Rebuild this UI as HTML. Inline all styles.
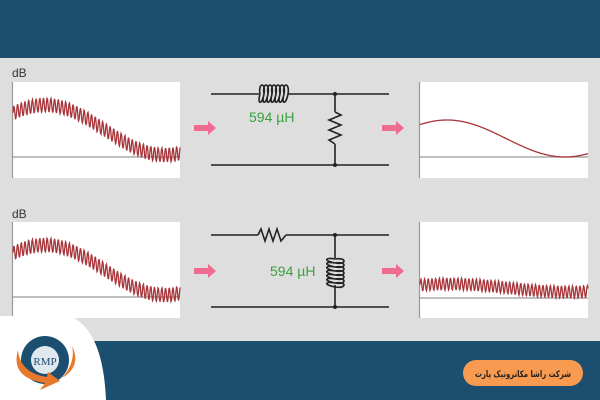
<!DOCTYPE html>
<html><head><meta charset="utf-8"><style>
body{margin:0;width:600px;height:400px;overflow:hidden;background:#1c4e6f;font-family:"Liberation Sans",sans-serif}
svg{display:block}
</style></head><body>
<svg width="600" height="400" viewBox="0 0 600 400" xmlns="http://www.w3.org/2000/svg">
<rect x="0" y="0" width="600" height="58" fill="#1c4e6f"/>
<rect x="0" y="58" width="600" height="283" fill="#dedede"/>
<rect x="0" y="341" width="600" height="59" fill="#1c4e6f"/>
<rect x="12" y="82" width="168" height="96" fill="#fff"/>
<rect x="419" y="82" width="169" height="96" fill="#fff"/>
<rect x="12" y="222" width="168" height="96" fill="#fff"/>
<rect x="419" y="222" width="169" height="96" fill="#fff"/>
<g stroke="#999" stroke-width="1.2">
<line x1="12.5" y1="82" x2="12.5" y2="178"/><line x1="12" y1="157" x2="180" y2="157"/>
<line x1="419.5" y1="82" x2="419.5" y2="178"/><line x1="419" y1="157" x2="588" y2="157"/>
<line x1="12.5" y1="222" x2="12.5" y2="318"/><line x1="12" y1="297" x2="180" y2="297"/>
<line x1="419.5" y1="222" x2="419.5" y2="318"/><line x1="419" y1="298" x2="588" y2="298"/>
</g>
<text x="12" y="77" font-size="12" fill="#333">dB</text>
<text x="12" y="218" font-size="12" fill="#333">dB</text>
<g fill="none" stroke="#a8353a" stroke-width="1.3">
<path id="w1"/><path id="w2"/><path id="w3"/><path id="w4"/>
</g>
<g fill="#f06b92">
<polygon points="194,125 208,125 208,121 216,128 208,135 208,131 194,131"/>
<polygon points="382,125 396,125 396,121 404,128 396,135 396,131 382,131"/>
<polygon points="194,268 208,268 208,264 216,271 208,278 208,274 194,274"/>
<polygon points="382,268 396,268 396,264 404,271 396,278 396,274 382,274"/>
</g>
<g stroke="#222" stroke-width="1.6" fill="none">
<line x1="211" y1="94" x2="259" y2="94"/><line x1="288" y1="94" x2="389" y2="94"/>
<line x1="211" y1="165" x2="389" y2="165"/>
<line x1="335" y1="94" x2="335" y2="112"/><line x1="335" y1="144" x2="335" y2="165"/>
<polyline points="335,112 341,115 329,120 341,125 329,130 341,135 329,140 335,144"/>
<path id="ind1"/>
<line x1="211" y1="235" x2="258" y2="235"/><line x1="286" y1="235" x2="389" y2="235"/>
<polyline points="258,235 261,229 265,241 269,229 273,241 277,229 281,241 286,235"/>
<line x1="211" y1="307" x2="389" y2="307"/>
<line x1="335" y1="235" x2="335" y2="258"/><line x1="335" y1="285" x2="335" y2="307"/>
<path id="ind2"/>
</g>
<g fill="#222"><circle cx="335" cy="94" r="2"/><circle cx="335" cy="165" r="2"/><circle cx="335" cy="235" r="2"/><circle cx="335" cy="307" r="2"/></g>
<text x="249" y="122" font-size="14" fill="#3aa040">594 µH</text>
<text x="270" y="276" font-size="14" fill="#3aa040">594 µH</text>
<path d="M0,316 L70,316 Q103,330 106,400 L0,400 Z" fill="#fff"/>
<circle cx="45" cy="360" r="24" fill="#1c4e6f"/>
<circle cx="45" cy="360" r="14" fill="#dfe8ef"/>
<text x="45" y="365" font-size="11" font-family="Liberation Serif" fill="#1c4e6f" text-anchor="middle">RMP</text>
<path d="M18,350 Q10,378 45,383 L40,390 L60,381 L48,372 L47,377 Q20,373 18,350 Z" fill="#e8792b"/>
<path d="M72,346 Q82,366 62,378 Q76,362 72,346 Z" fill="#e8792b"/>
<rect x="463" y="360" width="120" height="26" rx="13" fill="#f89a50"/>
<text x="571" y="377" font-size="9" font-weight="bold" fill="#222" text-anchor="start" direction="rtl" textLength="96" lengthAdjust="spacingAndGlyphs" font-family="'DejaVu Sans',sans-serif">شرکت راشا مکاترونیک پارت</text>
</svg>
<script>
function wave(f,x0,x1){let d="";for(let x=x0;x<=x1;x+=0.5){d+=(x==x0?"M":"L")+x.toFixed(1)+","+f(x).toFixed(2)+" ";}return d;}
const P=3.7;
document.getElementById("w1").setAttribute("d",wave(x=>130-25*Math.cos(Math.PI*(x-45)/120)+7*Math.sin(2*Math.PI*x/P),13,180));
document.getElementById("w2").setAttribute("d",wave(x=>138.5-18.5*Math.cos(Math.PI*(x-447)/118),420,588));
document.getElementById("w3").setAttribute("d",wave(x=>270-25*Math.cos(Math.PI*(x-45)/120)+7*Math.sin(2*Math.PI*x/P),13,180));
document.getElementById("w4").setAttribute("d",wave(x=>288-4*Math.cos(Math.PI*(x-450)/118)+6*Math.sin(2*Math.PI*x/P),420,588));
let d="";for(let i=0;i<7;i++){let x=260+i*4;d+=`M${x},94 C${x-2},82 ${x+6},82 ${x+4},94 C${x+2},105 ${x-3},105 ${x},94 `;}
document.getElementById("ind1").setAttribute("d",d);
let e="";for(let i=0;i<7;i++){let y=259+i*4;e+=`M335,${y} C347,${y-2} 347,${y+6} 335,${y+4} C324,${y+2} 324,${y-2} 335,${y} `;}
document.getElementById("ind2").setAttribute("d",e);
</script>
</body></html>
